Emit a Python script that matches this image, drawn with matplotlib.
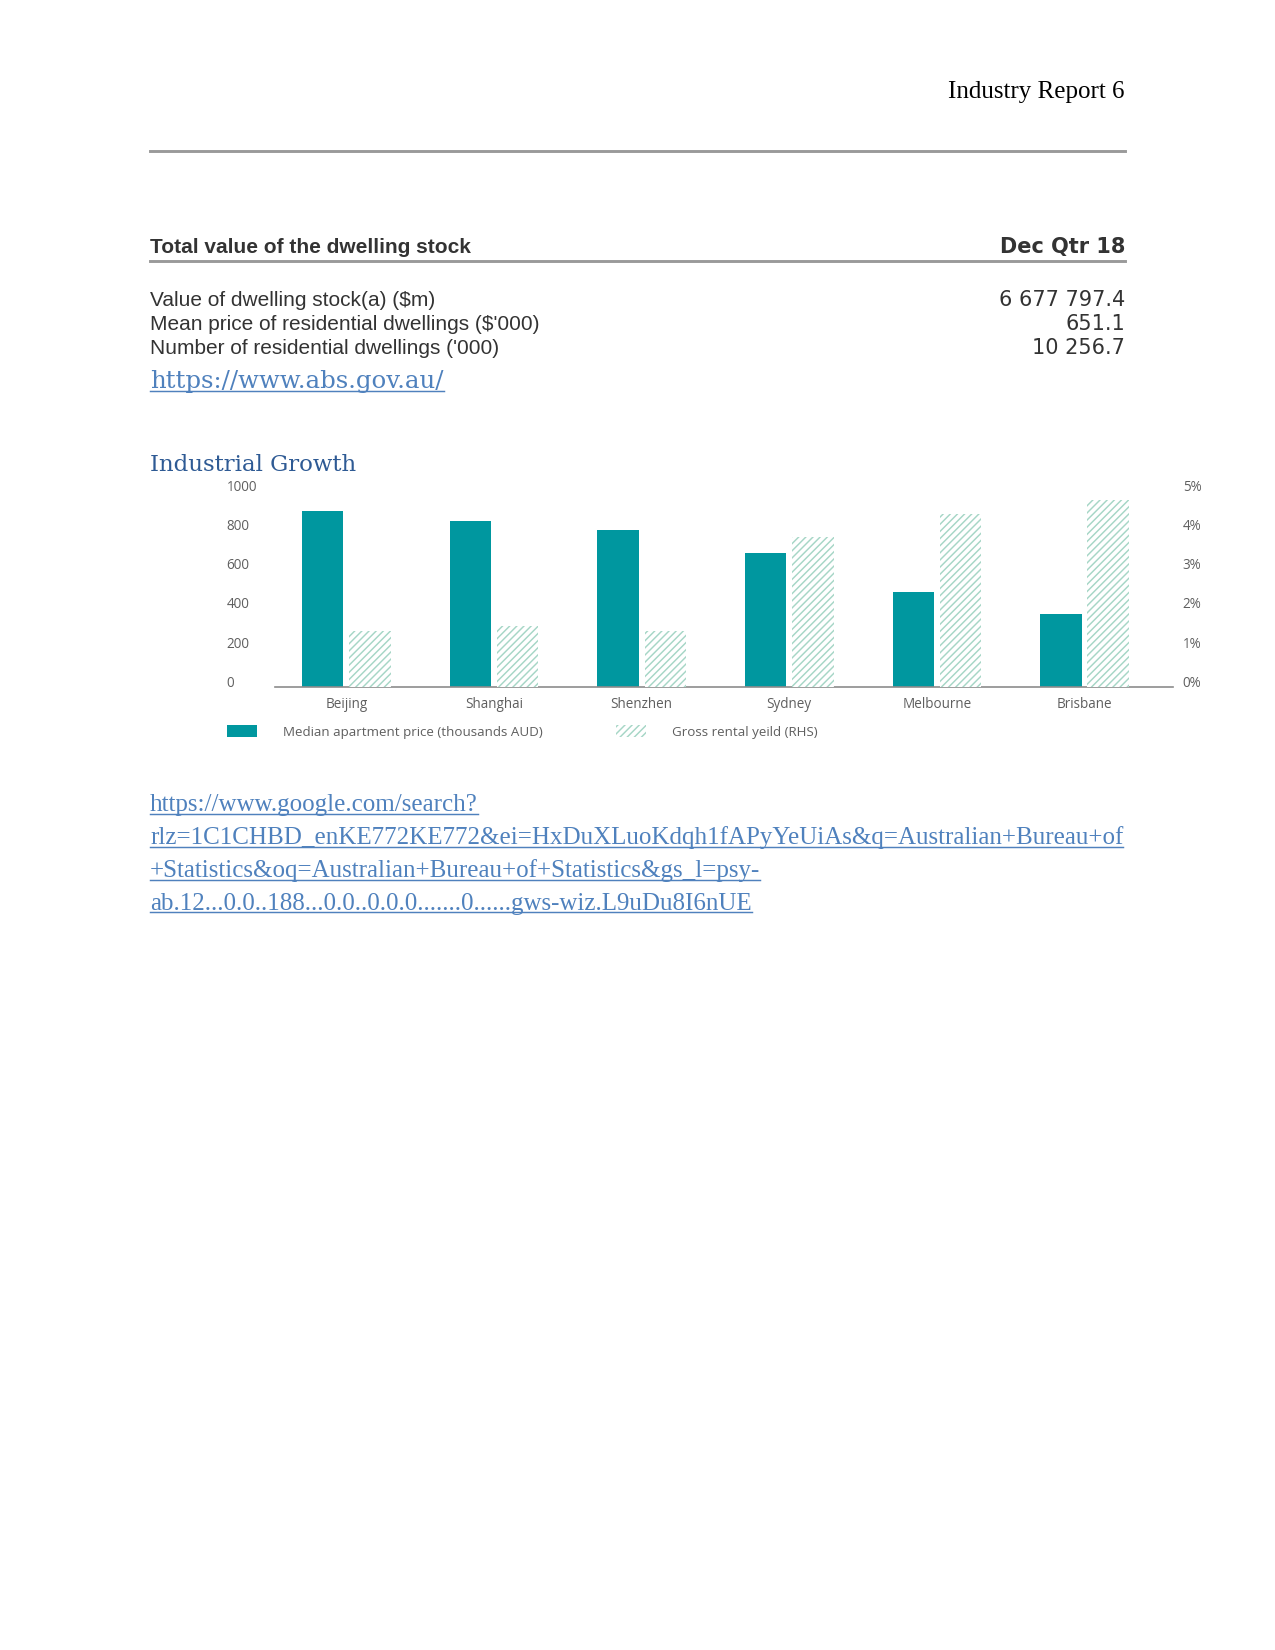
"""Industry report page: dwelling stock table + median price / rental yield chart."""
import matplotlib
matplotlib.use("Agg")
import matplotlib.pyplot as plt
import numpy as np
from matplotlib.lines import Line2D

# chart data
cities = ["Beijing", "Shanghai", "Shenzhen", "Sydney", "Melbourne", "Brisbane"]
median_price = [899, 847, 801, 681, 485, 373]          # thousands AUD
rental_yield = [1.43, 1.54, 1.43, 3.83, 4.42, 4.78]    # %
price_ticks = [0, 200, 400, 600, 800, 1000]
yield_ticks = [0, 1, 2, 3, 4, 5]

# table text
table_title = "Total value of the dwelling stock"
table_period = "Dec Qtr 18"
table_rows = ["Value of dwelling stock(a) ($m)",
              "Mean price of residential dwellings ($'000)",
              "Number of residential dwellings ('000)"]
table_values = ["6 677 797.4", "651.1", "10 256.7"]

google_lines = [
    "https://www.google.com/search?",
    "rlz=1C1CHBD_enKE772KE772&ei=HxDuXLuoKdqh1fAPyYeUiAs&q=Australian+Bureau+of",
    "+Statistics&oq=Australian+Bureau+of+Statistics&gs_l=psy-",
    "ab.12...0.0..188...0.0..0.0.0.......0......gws-wiz.L9uDu8I6nUE",
]

W, H = 1275, 1650
TEAL = "#00979f"
HATCH = "#a6d6c6"
GRAY = "#5f5f5f"
DARK = "#333333"
LINK = "#4f81bd"


def fx(x):
    return x / W


def fy(y):
    return 1 - y / H


plt.rcParams["hatch.linewidth"] = 0.7
plt.rcParams["hatch.color"] = HATCH

fig = plt.figure(figsize=(8.5, 11), dpi=150)
fig.patch.set_facecolor("white")

# page header
fig.text(fx(1125), fy(98), "Industry Report 6", family="Liberation Serif",
         fontsize=12, ha="right", va="baseline", color="black")
fig.add_artist(Line2D([fx(150), fx(1125)], [fy(151)] * 2, color="#9a9a9a", lw=1.4))

# table
fig.text(fx(150), fy(253), table_title, family="Liberation Sans", fontweight="bold",
         fontsize=10, va="baseline", color=DARK)
fig.text(fx(1125), fy(253), table_period, family="DejaVu Sans", fontweight="bold",
         fontsize=10, ha="right", va="baseline", color=DARK)
fig.add_artist(Line2D([fx(150), fx(1125)], [fy(261)] * 2, color="#9a9a9a", lw=1.4))
for i, (lab, val) in enumerate(zip(table_rows, table_values)):
    yb = 306 + i * 24.2
    fig.text(fx(150), fy(yb), lab, family="Liberation Sans", fontsize=10,
             va="baseline", color=DARK, parse_math=False)
    fig.text(fx(1125), fy(yb), val, family="DejaVu Sans", fontsize=10,
             ha="right", va="baseline", color=DARK)

links = []
t = fig.text(fx(150), fy(388), "https://www.abs.gov.au/", family="DejaVu Serif",
             fontsize=11.7, va="baseline", color=LINK)
links.append((t, 388))

fig.text(fx(150), fy(471), "Industrial Growth", family="DejaVu Serif",
         fontsize=11.0, va="baseline", color="#2e5a94")

# chart
ax = fig.add_axes([fx(274.5), fy(686.7), (1172.7 - 274.5) / W, (686.7 - 491) / H])
ax2 = ax.twinx()
x = np.arange(len(cities))
ax.bar(x - 0.16, median_price, 0.279, color=TEAL, lw=0,
       label="Median apartment price (thousands AUD)")
ax2.bar(x + 0.16, rental_yield, 0.281, facecolor="white", edgecolor=HATCH,
        hatch="///////", lw=0, label="Gross rental yeild (RHS)")
ax.set_xlim(-0.487, 5.597)
ax.set_ylim(0, 1000)
ax2.set_ylim(0, 5)

for a in (ax, ax2):
    for s in a.spines.values():
        s.set_visible(False)
ax.spines["bottom"].set_visible(True)
ax.spines["bottom"].set_color("#8c8c8c")
ax.spines["bottom"].set_linewidth(0.8)

cfont = dict(family="Open Sans", size=6.5)
ax.set_xticks(x, cities, fontdict=cfont, color=GRAY)
ax.set_yticks(price_ticks, [str(v) for v in price_ticks], fontdict=cfont, color=GRAY)
ax2.set_yticks(yield_ticks, [f"{v}%" for v in yield_ticks], fontdict=cfont, color=GRAY)
ax.tick_params(axis="x", length=0, pad=5)
ax.tick_params(axis="y", length=0, pad=23)
ax2.tick_params(axis="y", length=0, pad=4.8)
for lbl in ax.get_yticklabels():
    lbl.set_ha("left")
    lbl.set_va("baseline")
for lbl in ax2.get_yticklabels():
    lbl.set_va("baseline")

h1, l1 = ax.get_legend_handles_labels()
h2, l2 = ax2.get_legend_handles_labels()
fig.legend(h1 + h2, l1 + l2, loc="center left", bbox_to_anchor=(fx(226.7), fy(732)),
           ncol=2, frameon=False, prop={"family": "Open Sans", "size": 6.4},
           labelcolor=GRAY, handlelength=2.25, handleheight=1.0, handletextpad=2.0,
           columnspacing=5.45, borderpad=0, borderaxespad=0)

# google link
for i, line in enumerate(google_lines):
    yb = 811 + i * 33
    t = fig.text(fx(150), fy(yb), line, family="Liberation Serif", fontsize=12,
                 va="baseline", color=LINK)
    links.append((t, yb))

# underline the links
fig.canvas.draw()
r = fig.canvas.get_renderer()
for t, yb in links:
    bb = t.get_window_extent(r)
    fig.add_artist(Line2D([bb.x0 / W, bb.x1 / W], [fy(yb + 2.5)] * 2, color=LINK, lw=0.7))

fig.savefig("out.png", dpi=150, facecolor="white")
print("saved out.png")
